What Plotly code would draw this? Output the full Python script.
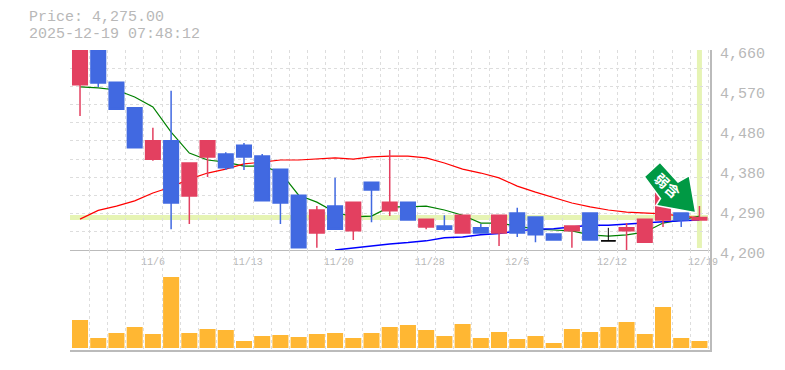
import plotly.graph_objects as go

idx = list(range(35))
opens  = [4580,4690,4586,4527,4409,4451,4324,4414,4421,4441,4416,4386,4326,4239,4301,4244,4356,4290,4310,4253,4255,4239,4251,4239,4285,4276,4237,4244,4285,4221,4244,4218,4269,4285,4269]
closes = [4690,4584,4524,4435,4451,4308,4400,4451,4389,4414,4313,4308,4205,4292,4248,4310,4338,4310,4269,4271,4248,4280,4239,4280,4239,4235,4223,4255,4223,4221,4251,4271,4331,4269,4275]
highs  = [4700,4700,4586,4527,4481,4566,4400,4451,4425,4446,4421,4386,4326,4301,4366,4310,4356,4430,4310,4271,4280,4280,4260,4280,4297,4276,4237,4255,4285,4251,4262,4271,4331,4285,4301]
lows   = [4508,4575,4524,4435,4405,4248,4260,4368,4384,4384,4313,4260,4205,4205,4248,4223,4264,4278,4269,4248,4244,4239,4239,4209,4230,4218,4223,4205,4223,4221,4200,4218,4253,4253,4269]
ma_short = [4575,4573,4568,4552,4529,4471,4423,4407,4402,4393,4393,4379,4326,4310,4287,4276,4278,4299,4299,4301,4292,4280,4262,4262,4255,4248,4246,4244,4235,4232,4235,4241,4262,4269,4278]
ma_mid = [4271,4291,4301,4313,4331,4345,4363,4377,4386,4398,4402,4407,4407,4409,4412,4409,4414,4416,4416,4412,4400,4386,4377,4366,4347,4333,4321,4308,4299,4292,4287,4285,4283,4278,4274]
ma_long = [None]*14 + [4200,4205,4209,4214,4217,4221,4228,4230,4235,4238,4244,4248,4249,4253,4257,4257,4260,4262,4265,4267,4269]
volume = [280,100,150,210,140,710,150,190,180,70,120,130,110,140,150,100,150,210,230,180,120,240,100,160,90,120,50,190,160,210,260,140,410,100,70]
x_tick_pos = [4, 9.2, 14.2, 19.2, 24, 29.2, 34.2]
x_tick_text = ["11/6", "11/13", "11/20", "11/28", "12/5", "12/12", "12/19"]
price_tick_val = [4660, 4568, 4476, 4384, 4292, 4200]
price_tick_text = ["4,660", "4,570", "4,480", "4,380", "4,290", "4,200"]
price_grid = [4200 + 460 * k / 11 for k in range(12)]
last_price = 4275
title_lines = ["Price: 4,275.00", "2025-12-19 07:48:12"]

W, H = 785, 370
L, R, T, B = 70, 710, 50, 350
GRID = "#dddddd"
AXIS = "#bbbbbb"
TXT = "#b8b8b8"
MONO = "Liberation Mono, monospace"
X_RANGE = [-0.55, 34.58]
Y_RANGE = [4200, 4660]

def px(X):
    return (X - L) / (R - L)
def py(Y):
    return (B - Y) / (B - T)

up = [i for i in idx if closes[i] > opens[i]]
down = [i for i in idx if closes[i] < opens[i]]
doji = [i for i in idx if closes[i] == opens[i]]

def candle(sel, color, width=1.5):
    return go.Candlestick(
        x=[idx[i] for i in sel], open=[opens[i] for i in sel], close=[closes[i] for i in sel],
        high=[highs[i] for i in sel], low=[lows[i] for i in sel],
        xaxis="x", yaxis="y3", showlegend=False, whiskerwidth=0,
        increasing=dict(line=dict(color=color, width=width), fillcolor=color),
        decreasing=dict(line=dict(color=color, width=width), fillcolor=color),
    )

fig = go.Figure()
for ys, c, w in [(ma_short, "#008000", 1.2), (ma_mid, "#ff0000", 1.2), (ma_long, "#0000ff", 1.5)]:
    fig.add_trace(go.Scatter(x=idx, y=ys, mode="lines", line=dict(color=c, width=w),
                             xaxis="x", yaxis="y", showlegend=False, hoverinfo="skip"))
fig.add_trace(candle(down, "#4169e1"))
fig.add_trace(candle(up, "#e34060"))
fig.add_trace(candle(doji, "#000000", 1))
fig.add_trace(go.Bar(x=idx, y=volume, marker=dict(color="#ffb733", line=dict(width=0)),
                     xaxis="x2", yaxis="y2", showlegend=False, hoverinfo="skip"))

minor = dict(showgrid=True, tick0=-0.5, dtick=1, griddash="3px,3px", gridcolor=GRID, gridwidth=1, ticklen=0)
arrow_px = [(660, 162.3), (678, 182), (689.3, 175.7), (695.7, 212.7), (656, 205.5), (660.5, 198.5), (644.3, 176.7)]
arrow_path = "M " + " L ".join(f"{px(a):.5f} {py(b):.5f}" for a, b in arrow_px) + " Z"
shapes = [
    dict(type="line", layer="below", xref="paper", yref="y", x0=0, x1=px(708), y0=last_price, y1=last_price,
         line=dict(color="#e6f4b4", width=5)),
    dict(type="line", layer="below", xref="x", yref="paper", x0=idx[-1], x1=idx[-1], y0=py(248), y1=1,
         line=dict(color="#e6f4b4", width=5)),
    dict(type="path", layer="above", xref="paper", yref="paper", path=arrow_path,
         fillcolor="#009944", line=dict(color="#ffffff", width=1.5)),
]
annotations = [
    dict(xref="paper", yref="paper", x=px(28), y=py(18), xanchor="left", yanchor="middle", borderpad=0,
         text=title_lines[0], showarrow=False, font=dict(family=MONO, size=15, color=TXT)),
    dict(xref="paper", yref="paper", x=px(28), y=py(35), xanchor="left", yanchor="middle", borderpad=0,
         text=title_lines[1], showarrow=False, font=dict(family=MONO, size=15, color=TXT)),
    dict(xref="paper", yref="paper", x=px(667.5), y=py(184.7), xanchor="center", yanchor="middle",
         text="<b>弱含</b>", textangle=43, showarrow=False,
         font=dict(family="Noto Sans CJK JP", size=14, color="#ffffff")),
]
for v, t in zip(price_tick_val, price_tick_text):
    annotations.append(dict(xref="paper", yref="y", x=px(718), y=v, yshift=-4, xanchor="left", yanchor="middle",
                            text=t, showarrow=False, font=dict(family=MONO, size=15, color=TXT)))

fig.update_layout(
    width=W, height=H, margin=dict(l=L, r=W - R, t=T, b=H - B, pad=0),
    paper_bgcolor="#ffffff", plot_bgcolor="#ffffff", showlegend=False,
    boxgap=0.2, boxgroupgap=0, boxmode="overlay", bargap=0.12,
    shapes=shapes, annotations=annotations,
    xaxis=dict(domain=[0, 1], range=X_RANGE, anchor="y", rangeslider=dict(visible=False),
               tickmode="array", tickvals=x_tick_pos, ticktext=x_tick_text, ticks="", showgrid=False,
               tickfont=dict(family=MONO, size=10, color=TXT), ticklabelstandoff=2,
               minor=minor, showline=True, linecolor=AXIS, linewidth=1, zeroline=False),
    xaxis2=dict(domain=[0, 1], range=X_RANGE, anchor="y2", showticklabels=False, ticks="", showgrid=False,
                minor=minor, showline=True, linecolor=AXIS, linewidth=2, zeroline=False),
    yaxis=dict(domain=[py(250), 1], range=Y_RANGE, anchor="x", side="right", tickmode="array", tickvals=price_grid,
               showticklabels=False, ticks="", showgrid=True, griddash="3px,3px", gridcolor=GRID, gridwidth=1,
               showline=True, linecolor=AXIS, linewidth=2, zeroline=False),
    yaxis3=dict(range=Y_RANGE, overlaying="y", anchor="x", side="right", showticklabels=False, ticks="",
                showgrid=False, showline=False, zeroline=False),
    yaxis2=dict(domain=[0, py(250)], range=[-20, 980], anchor="x2", side="right", showticklabels=False, ticks="",
                showgrid=False, showline=True, linecolor=AXIS, linewidth=2, zeroline=False),
)
fig.write_html("out.html", config={"displayModeBar": False}, post_script="document.body.style.margin='0';")
